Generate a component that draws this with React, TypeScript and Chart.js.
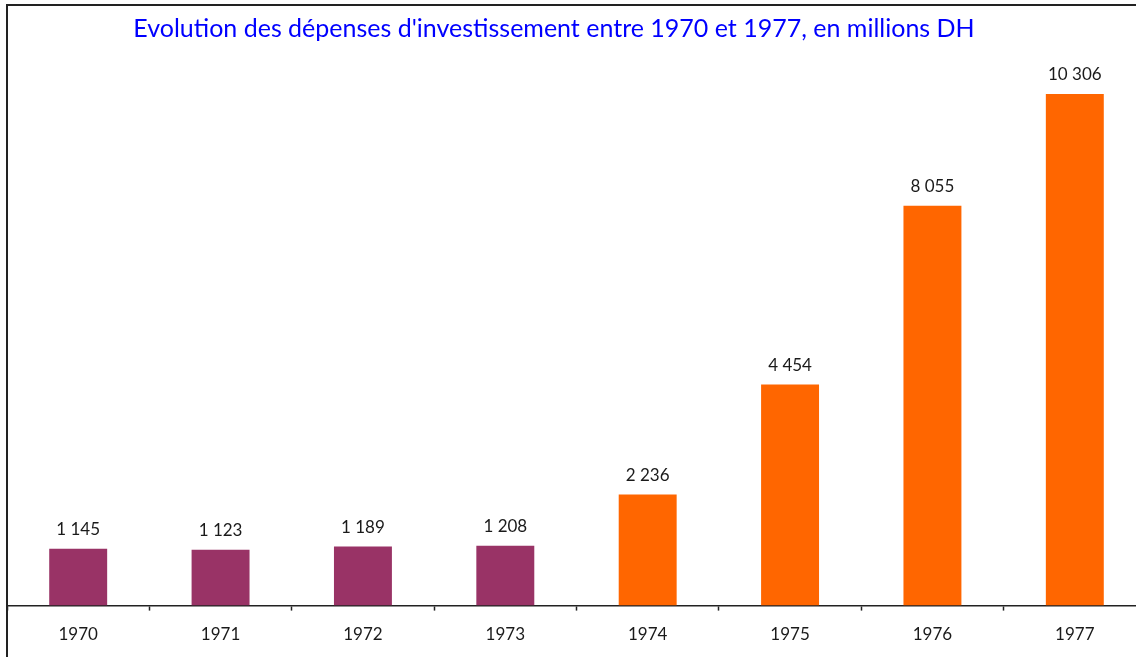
import React, { useEffect, useRef } from "react";
import { Chart, registerables } from "chart.js";

Chart.register(...registerables);

const TITLE = "Evolution des dépenses d'investissement entre 1970 et 1977, en millions DH";
const years = ["1970", "1971", "1972", "1973", "1974", "1975", "1976", "1977"];
const values = [1145, 1123, 1189, 1208, 2236, 4454, 8055, 10306];
const PURPLE = "#993366";
const ORANGE = "#FF6600";
const barColors = [PURPLE, PURPLE, PURPLE, PURPLE, ORANGE, ORANGE, ORANGE, ORANGE];

const FONT = "Lato, 'Open Sans', sans-serif";

const fmt = (v: number) => String(v).replace(/\B(?=(\d{3})+(?!\d))/g, " ");

const labelPlugin = {
  id: "barLabels",
  afterDatasetsDraw(chart: any) {
    const ctx = chart.ctx;
    const meta = chart.getDatasetMeta(0);
    ctx.save();
    ctx.font = `17px ${FONT}`;
    ctx.fillStyle = "#1a1a1a";
    ctx.textAlign = "center";
    ctx.textBaseline = "alphabetic";
    meta.data.forEach((bar: any, i: number) => {
      ctx.fillText(fmt(values[i]), bar.x, bar.y - 14);
    });
    ctx.restore();
  },
};

const titlePlugin = {
  id: "customTitle",
  afterDraw(chart: any) {
    const ctx = chart.ctx;
    ctx.save();
    ctx.font = `25px ${FONT}`;
    ctx.fillStyle = "#0000FF";
    ctx.textAlign = "center";
    ctx.textBaseline = "alphabetic";
    ctx.fillText(TITLE, chart.chartArea.left + 547, 31);
    ctx.restore();
  },
};

export default function App() {
  const ref = useRef<HTMLCanvasElement>(null);
  useEffect(() => {
    if (!ref.current) return;
    const chart = new Chart(ref.current, {
      type: "bar",
      data: {
        labels: years,
        datasets: [
          {
            data: values,
            backgroundColor: barColors,
            borderWidth: 0,
            categoryPercentage: 1,
            barPercentage: 0.407,
          },
        ],
      },
      options: {
        animation: false,
        responsive: false,
        maintainAspectRatio: false,
        layout: { padding: { top: 4, bottom: 47, left: 0, right: 0 } },
        plugins: {
          legend: { display: false },
          title: { display: false },
          tooltip: { enabled: false },
        },
        scales: {
          x: {
            grid: {
              display: true,
              offset: true,
              drawOnChartArea: false,
              drawTicks: true,
              tickLength: 5,
              tickColor: "#222",
              tickWidth: 1.5,
            },
            border: { display: true, color: "#222", width: 1.5 },
            ticks: {
              color: "#1a1a1a",
              font: { family: FONT, size: 17 },
              padding: 14,
              maxRotation: 0,
            },
          },
          y: {
            display: false,
            min: 0,
            max: 12000,
          },
        },
      },
      plugins: [labelPlugin, titlePlugin],
    });
    return () => chart.destroy();
  }, []);

  return (
    <div
      style={{
        position: "absolute",
        top: 4,
        left: 6,
        width: 1130,
        height: 653,
        overflow: "hidden",
        borderTop: "2px solid #222",
        borderLeft: "2px solid #222",
        boxSizing: "border-box",
      }}
    >
      <canvas
        ref={ref}
        width={1139}
        height={700}
        style={{ display: "block", marginLeft: -1 }}
      />
    </div>
  );
}
